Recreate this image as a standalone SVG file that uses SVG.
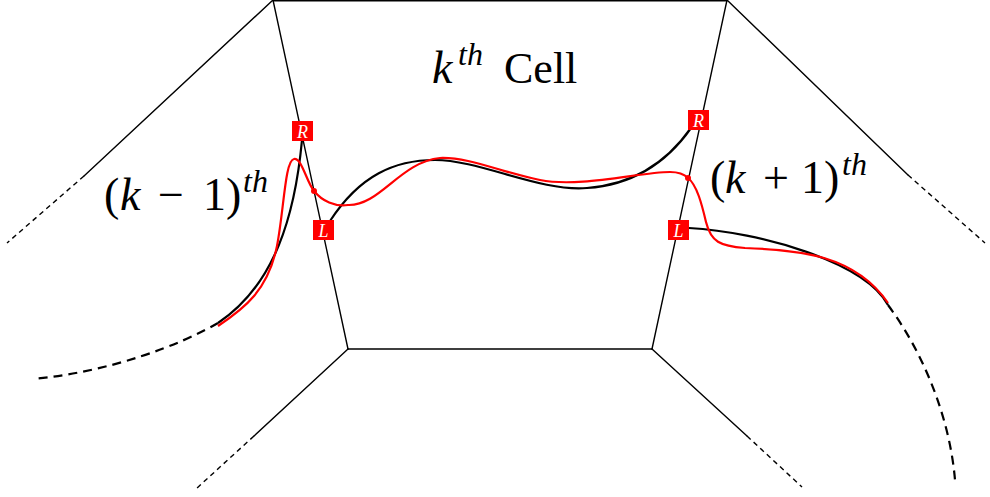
<svg xmlns="http://www.w3.org/2000/svg" width="990" height="497" viewBox="0 0 990 497">
<style>
.edge{fill:none;stroke:#000;stroke-width:1.4;stroke-linecap:round}
.thin-dash{fill:none;stroke:#000;stroke-width:1.4;stroke-dasharray:5 4}
.blk{fill:none;stroke:#000;stroke-width:2.2}
.blk-dash{fill:none;stroke:#000;stroke-width:2.2;stroke-dasharray:9 6}
.red{fill:none;stroke:#ff0000;stroke-width:2.2}
.box{fill:#ff0000}
.boxt{font-family:"Liberation Serif",serif;font-style:italic;font-size:18px;fill:#fff;text-anchor:middle}
.m{font-family:"Liberation Serif",serif;fill:#000}
.it{font-style:italic}
</style>
<rect width="990" height="497" fill="#fff"/>
<g id="cell">
<polyline class="edge" points="273,0.7 727,0.7"/>
<line class="edge" x1="273" y1="0" x2="348" y2="349"/>
<line class="edge" x1="727" y1="0" x2="652" y2="349"/>
<line class="edge" x1="348" y1="349" x2="652" y2="349"/>
</g>
<g id="neighbour-edges">
<line class="edge" x1="273" y1="0" x2="84" y2="176"/>
<line class="thin-dash" x1="84" y1="176" x2="7" y2="243"/>
<line class="edge" x1="727" y1="0" x2="908" y2="175"/>
<line class="thin-dash" x1="908" y1="175" x2="985" y2="243"/>
<line class="edge" x1="348" y1="349" x2="254" y2="436"/>
<line class="thin-dash" x1="254" y1="436" x2="197" y2="488"/>
<line class="edge" x1="652" y1="349" x2="747" y2="436"/>
<line class="thin-dash" x1="747" y1="436" x2="802" y2="487"/>
</g>
<g id="connectors">
<path class="blk" d="M 302,140 C 295,215 275,285 218,323"/>
<path class="blk-dash" d="M 218,323 C 180,345 110,372 33,379"/>
<path class="blk" d="M 330,221 C 360,175 395,160 435,160 C 480,160 540,192 587,188 C 630,185 665,165 691,128"/>
<path class="blk" d="M 689,228 C 760,232 865,262 888,305"/>
<path class="blk-dash" d="M 888,305 C 925,355 950,420 955,480"/>
<path class="red" d="M 218,326 C 245,308 268,290 277,246 C 284,210 285,160 294,159 C 302,158 306,181 314,191 C 322,201 335,207 348,205 C 380,206 400,162 440,158 C 470,157 500,172 540,180 C 580,188 640,172 670,172 C 680,172 685,175 688,178 C 697,185 702,205 706,222 C 711,242 720,246 745,248 C 800,250 855,255 888,303"/>
<circle cx="314" cy="191" r="3" fill="#ff0000"/>
<circle cx="688" cy="178" r="3" fill="#ff0000"/>
</g>
<g id="box-left-R"><rect class="box" x="292" y="121" width="21" height="20"/><text class="boxt" x="302.5" y="137.5">R</text></g>
<g id="box-left-L"><rect class="box" x="313" y="220" width="21" height="20"/><text class="boxt" x="323.5" y="236.5">L</text></g>
<g id="box-right-R"><rect class="box" x="688" y="110" width="21" height="20"/><text class="boxt" x="698.5" y="126.5">R</text></g>
<g id="box-right-L"><rect class="box" x="668" y="220" width="21" height="20"/><text class="boxt" x="678.5" y="236.5">L</text></g>
<g id="label-cell">
<text class="m" y="83" font-size="46"><tspan class="it" x="432">k</tspan><tspan class="it" x="458" y="65" font-size="32">th</tspan><tspan x="504" y="83" font-size="44">Cell</tspan></text>
</g>
<g id="label-prev">
<text class="m" y="210" font-size="46"><tspan x="104">(</tspan><tspan class="it" x="120">k</tspan><tspan x="158">−</tspan><tspan x="203">1</tspan><tspan x="226">)</tspan><tspan class="it" x="243" y="192" font-size="32">th</tspan></text>
</g>
<g id="label-next">
<text class="m" y="193" font-size="46"><tspan x="710">(</tspan><tspan class="it" x="725">k</tspan><tspan x="763">+</tspan><tspan x="801">1</tspan><tspan x="824">)</tspan><tspan class="it" x="842" y="175" font-size="32">th</tspan></text>
</g>
</svg>
